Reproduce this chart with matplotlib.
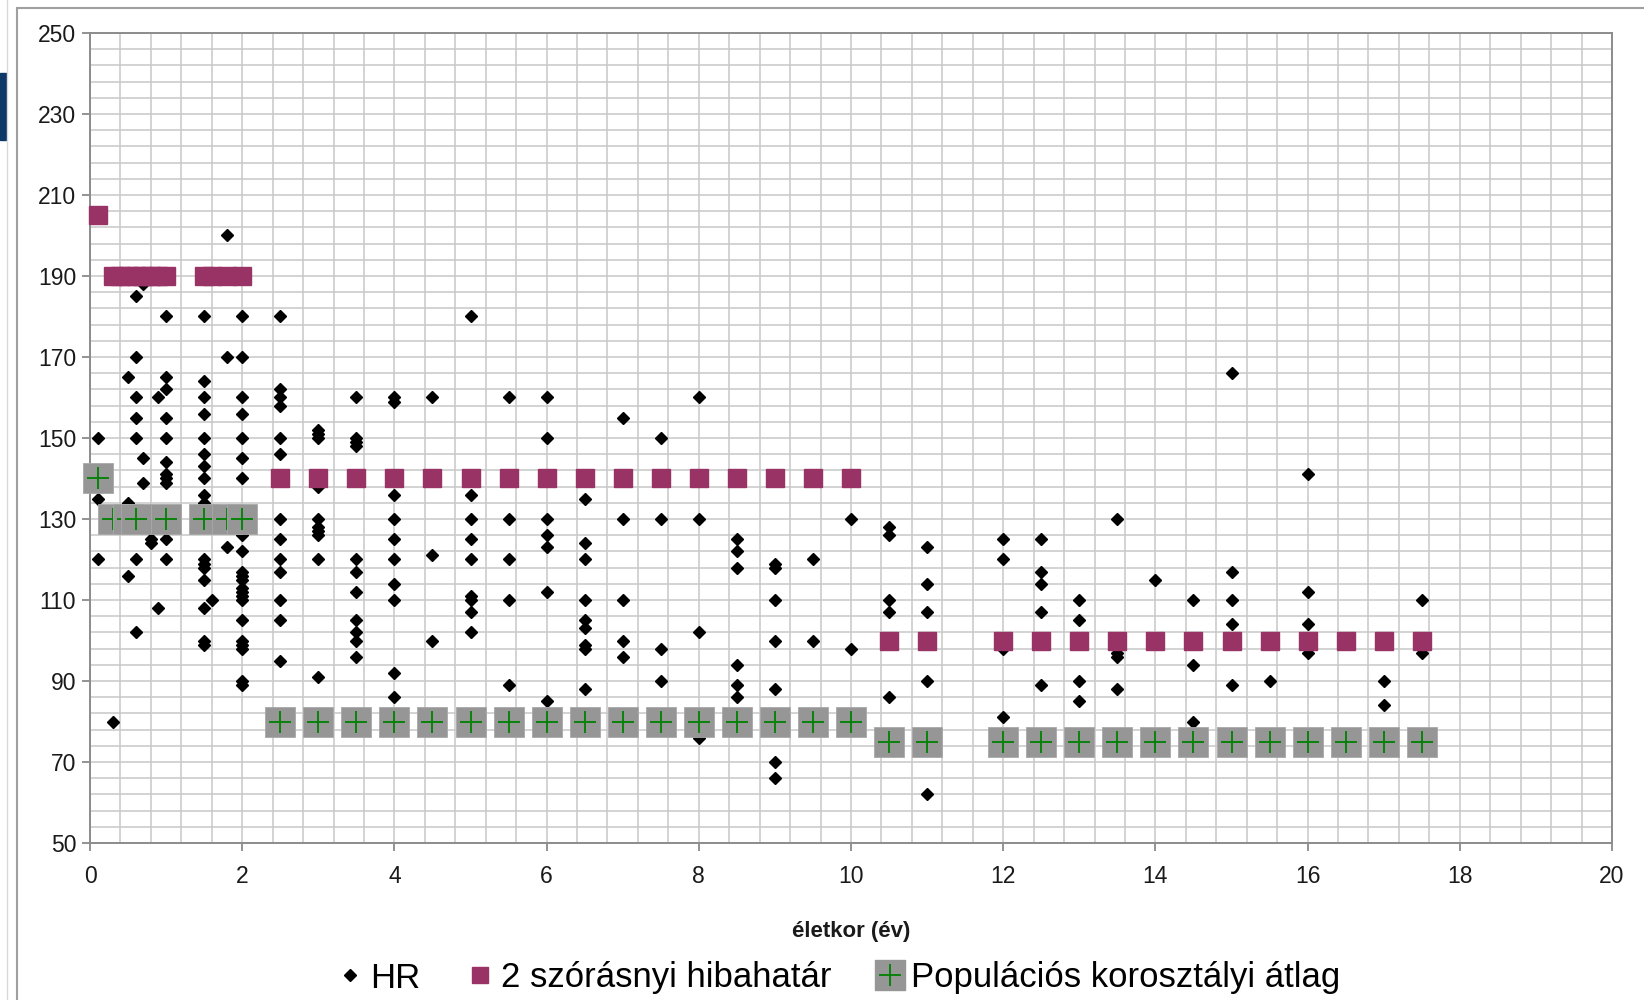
import numpy as np
import matplotlib
matplotlib.use("Agg")
import matplotlib.pyplot as plt
from matplotlib.lines import Line2D
from matplotlib.legend_handler import HandlerTuple
from matplotlib.ticker import FixedLocator
from matplotlib.patches import Rectangle

plt.rcParams['font.family'] = ['Liberation Sans', 'DejaVu Sans']

# measured heart rates, grouped by age (years)
hr_ages = [0.1, 0.3, 0.5, 0.6, 0.7, 0.8, 0.9, 1.0, 1.5, 1.6, 1.8, 2.0,
           2.5, 3.0, 3.5, 4.0, 4.5, 5.0, 5.5, 6.0, 6.5, 7.0, 7.5, 8.0,
           8.5, 9.0, 9.5, 10.0, 10.5, 11.0, 12.0, 12.5, 13.0, 13.5, 14.0,
           14.5, 15.0, 15.5, 16.0, 17.0, 17.5]
hr_values = [
    [150, 135, 120],
    [80],
    [165, 134, 116],
    [185, 170, 160, 155, 150, 120, 102],
    [188, 145, 139],
    [125, 124],
    [160, 108],
    [180, 165, 162, 155, 150, 144, 141, 140, 139, 130, 125, 120],
    [180, 164, 160, 156, 150, 146, 143, 140, 136, 134, 120, 119, 118, 115, 108, 100, 99],
    [110],
    [200, 170, 123],
    [180, 170, 160, 156, 150, 145, 140, 126, 122, 117, 116, 115, 113, 112, 111, 110,
     105, 100, 99, 98, 90, 89],
    [180, 162, 160, 158, 150, 146, 130, 125, 120, 117, 110, 105, 95],
    [152, 151, 150, 138, 130, 128, 127, 126, 120, 91],
    [160, 150, 149, 148, 120, 117, 112, 105, 102, 100, 96],
    [160, 159, 136, 130, 125, 120, 114, 110, 92, 86],
    [160, 121, 100],
    [180, 136, 130, 125, 120, 111, 110, 107, 102],
    [160, 130, 120, 110, 89],
    [160, 150, 130, 126, 123, 112, 85],
    [135, 124, 120, 110, 105, 103, 99, 98, 88],
    [155, 130, 110, 100, 96],
    [150, 130, 98, 90],
    [160, 130, 102, 76],
    [125, 122, 118, 94, 89, 86],
    [119, 118, 110, 100, 88, 70, 66],
    [120, 100],
    [130, 98],
    [128, 126, 110, 107, 86],
    [123, 114, 107, 90, 62],
    [125, 120, 98, 81],
    [125, 117, 114, 107, 89],
    [110, 105, 90, 85],
    [130, 97, 96, 88],
    [115],
    [110, 94, 80],
    [166, 117, 110, 104, 89],
    [90],
    [141, 112, 104, 97],
    [90, 84],
    [110, 97],
]

# 2 SD limit
sd_ages = [0.1, 0.3, 0.4, 0.5, 0.6, 0.7, 0.8, 0.9, 1.0, 1.5, 1.6, 1.8, 2.0,
           2.5, 3.0, 3.5, 4.0, 4.5, 5.0, 5.5, 6.0, 6.5, 7.0, 7.5, 8.0, 8.5,
           9.0, 9.5, 10.0, 10.5, 11.0, 12.0, 12.5, 13.0, 13.5, 14.0, 14.5,
           15.0, 15.5, 16.0, 16.5, 17.0, 17.5]
sd_values = [205, 190, 190, 190, 190, 190, 190, 190, 190, 190, 190, 190, 190,
             140, 140, 140, 140, 140, 140, 140, 140, 140, 140, 140, 140, 140,
             140, 140, 140, 100, 100, 100, 100, 100, 100, 100, 100,
             100, 100, 100, 100, 100, 100]

# population age-group mean
pop_ages = [0.1, 0.3, 0.5, 0.6, 1.0, 1.5, 1.8, 2.0,
            2.5, 3.0, 3.5, 4.0, 4.5, 5.0, 5.5, 6.0, 6.5, 7.0, 7.5, 8.0, 8.5,
            9.0, 9.5, 10.0, 10.5, 11.0, 12.0, 12.5, 13.0, 13.5, 14.0, 14.5,
            15.0, 15.5, 16.0, 16.5, 17.0, 17.5]
pop_values = [140, 130, 130, 130, 130, 130, 130, 130,
              80, 80, 80, 80, 80, 80, 80, 80, 80, 80, 80, 80, 80,
              80, 80, 80, 75, 75, 75, 75, 75, 75, 75, 75,
              75, 75, 75, 75, 75, 75]

PLUM = '#993366'
BOXGRAY = '#969696'
PLUSGREEN = '#008000'

fig = plt.figure(figsize=(16.44, 10), dpi=100)
fig.patch.set_facecolor('white')
ax = fig.add_axes([90 / 1644, 157 / 1000, 1522 / 1644, 810 / 1000])

ax.set_xlim(0, 20)
ax.set_ylim(50, 250)
ax.set_xticks(np.arange(0, 21, 2))
ax.xaxis.set_minor_locator(FixedLocator(np.arange(0, 20.01, 0.4)))
ax.set_yticks(np.arange(50, 251, 20))
ax.yaxis.set_minor_locator(FixedLocator(np.arange(50, 251, 4)))
ax.grid(which='both', color='#c8c8c8', linewidth=1.1, zorder=0)
ax.set_axisbelow(True)
ax.tick_params(which='major', direction='out', length=6, width=1.2,
               color='#808080', labelsize=16.5, pad=4, labelcolor='#1a1a1a')
ax.tick_params(which='minor', length=0)
ax.tick_params(axis='x', pad=10)
for s in ax.spines.values():
    s.set_color('#8c8c8c')
    s.set_linewidth(1.4)

# HR points
xs, ys = [], []
for a, vals in zip(hr_ages, hr_values):
    xs += [a] * len(vals)
    ys += vals
ax.plot(xs, ys, linestyle='none', marker='D', ms=6, color='black', zorder=3)

# 2 SD squares
ax.plot(sd_ages, sd_values, linestyle='none', marker='s', ms=13,
        color=PLUM, mec=PLUM, zorder=4, clip_on=False)

# population means: box then plus, one point after the other
z = 5
for a, v in zip(pop_ages, pop_values):
    ax.plot([a], [v], linestyle='none', marker='s', ms=21.5, color=BOXGRAY,
            mec='#a8a8a8', mew=0.6, zorder=z, clip_on=False)
    ax.plot([a], [v], linestyle='none', marker='+', ms=16, mew=1.3,
            color=PLUSGREEN, zorder=z + 0.5, clip_on=False)
    z += 1

ax.set_xlabel('életkor (év)', fontsize=16, fontweight='bold', color='#1a1a1a')
ax.xaxis.set_label_coords(0.5, -(931 - 843) / 810)
ax.xaxis.label.set_va('center')

h_hr = Line2D([], [], linestyle='none', marker='D', ms=6, color='black')
h_sd = Line2D([], [], linestyle='none', marker='s', ms=11, color=PLUM)
h_box = Line2D([], [], linestyle='none', marker='s', ms=21, color=BOXGRAY)
h_plus = Line2D([], [], linestyle='none', marker='+', ms=16, mew=1.3, color=PLUSGREEN)
fig.legend([h_hr, h_sd, (h_box, h_plus)],
           ['HR', '2 szórásnyi hibahatár', 'Populációs korosztályi átlag'],
           handler_map={tuple: HandlerTuple(ndivide=1, pad=0)},
           loc='center', bbox_to_anchor=(838 / 1644, 22 / 1000), ncol=3,
           frameon=False, fontsize=25, handlelength=0.8, handletextpad=0.2,
           columnspacing=1.3, borderpad=0)

# outer chart frame and slide remnant on the left
fig.add_artist(Rectangle((17 / 1644, -0.01), 1.1, 1 - 8 / 1000 + 0.01,
                         transform=fig.transFigure, fill=False,
                         edgecolor='#a0a0a0', linewidth=1.5))
fig.add_artist(Line2D([7 / 1644, 7 / 1644], [0, 1], transform=fig.transFigure,
                      color='#d8d8d8', linewidth=1))
fig.add_artist(Rectangle((0, 1 - 140 / 1000), 6 / 1644, 67 / 1000,
                         transform=fig.transFigure, color='#0d3868'))

fig.savefig('out.png', dpi=100)
